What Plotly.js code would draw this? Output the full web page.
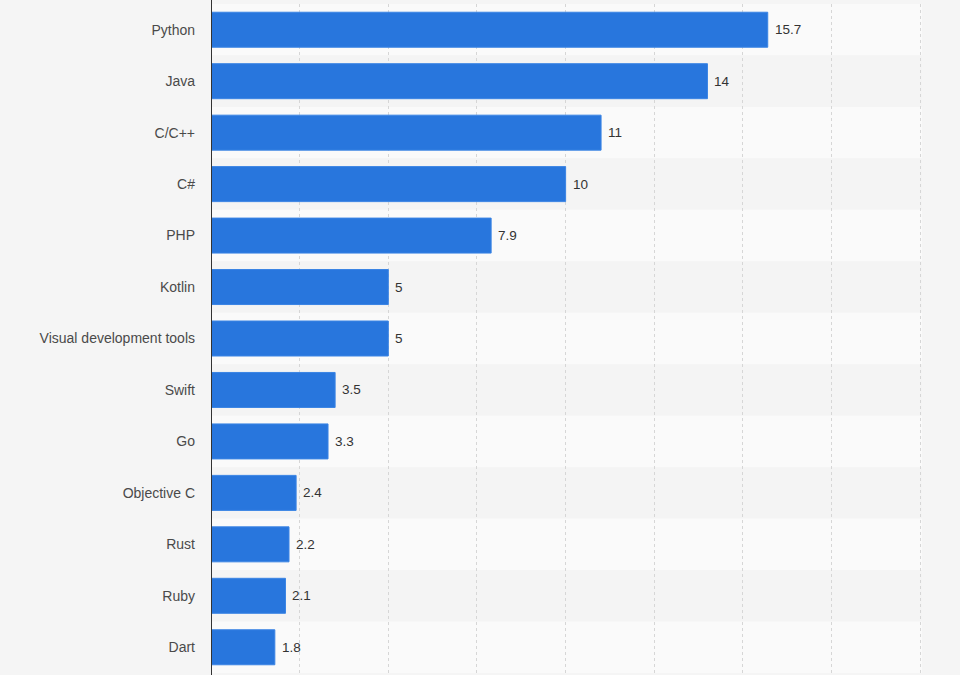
<!DOCTYPE html>
<html>
<head>
<meta charset="utf-8">
<script src="https://cdn.plot.ly/plotly-3.0.1.min.js"></script>
<style>
html,body{margin:0;padding:0;background:#f5f5f5;}
#chart{width:960px;height:675px;}
</style>
</head>
<body>
<div id="chart"></div>
<script>
const categories = ["Python","Java","C/C++","C#","PHP","Kotlin","Visual development tools","Swift","Go","Objective C","Rust","Ruby","Dart"];
const values = [15.7,14,11,10,7.9,5,5,3.5,3.3,2.4,2.2,2.1,1.8];
const valueLabels = ["15.7","14","11","10","7.9","5","5","3.5","3.3","2.4","2.2","2.1","1.8"];

const shapes = categories.map((c,i)=>({
  type:'rect', xref:'paper', yref:'y', layer:'below',
  x0:0, x1:1, y0:i-0.5, y1:i+0.5,
  fillcolor: i%2===0 ? '#fafafa' : '#f4f4f4', line:{width:0}
}));

const annotations = values.map((v,i)=>({
  x:v, y:i, xref:'x', yref:'y', text:valueLabels[i], showarrow:false,
  xanchor:'left', yanchor:'middle', xshift:5,
  font:{family:'Liberation Sans, Arial, sans-serif', size:13.5, color:'#333'}
}));

const trace = {
  type:'bar', orientation:'h',
  x: values, y: categories.map((c,i)=>i),
  marker:{color:'#2876dd', line:{color:'#3a84e4', width:1}},
  hoverinfo:'none'
};

const layout = {
  width:960, height:675,
  margin:{l:211, r:38, t:4, b:2},
  paper_bgcolor:'#f5f5f5', plot_bgcolor:'rgba(0,0,0,0)',
  bargap:0.32,
  showlegend:false,
  shapes: shapes,
  annotations: annotations,
  xaxis:{range:[0,20.05], tickmode:'array', tickvals:[2.5,5,7.5,10,12.5,15,17.5,20],
         showticklabels:false, showgrid:true,
         gridcolor:'#d6d6d6', griddash:'dot', gridwidth:1, zeroline:false,
         showline:false, fixedrange:true},
  yaxis:{tickmode:'array', tickvals:categories.map((c,i)=>i), ticktext:categories,
         range:[categories.length-0.5,-0.5], showgrid:false, zeroline:false,
         showline:false, ticks:'', ticklabelstandoff:15,
         tickfont:{family:'Liberation Sans, Arial, sans-serif', size:14, color:'#4a4a4a'}},
};
layout.shapes.push({type:'line', xref:'x', yref:'paper', x0:0, x1:0, y0:-0.01, y1:1.01, line:{color:'#333', width:2}});

Plotly.newPlot('chart',[trace],layout,{displayModeBar:false, staticPlot:true});
</script>
</body>
</html>
